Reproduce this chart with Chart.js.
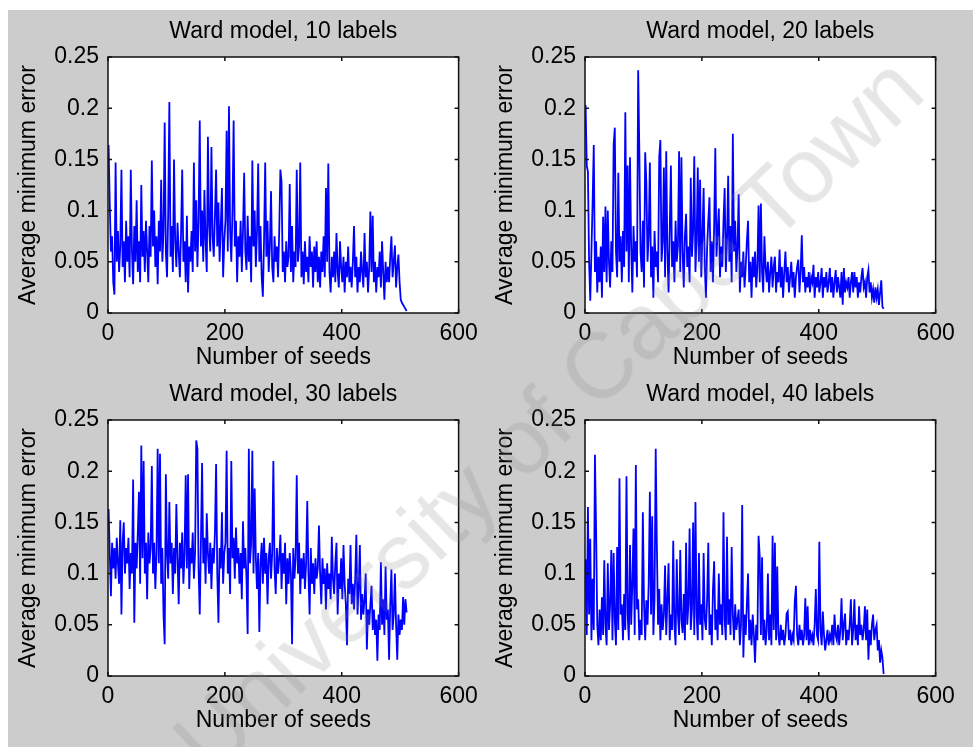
<!DOCTYPE html>
<html>
<head>
<meta charset="utf-8">
<title>Ward model</title>
<script src="https://cdn.jsdelivr.net/npm/chart.js@4.4.1/dist/chart.umd.min.js"></script>
<style>
  body { margin: 0; background: #fff; width: 973px; height: 747px; overflow: hidden; position: relative; }
  #fig { position: absolute; left: 8px; top: 10px; width: 965px; height: 737px; background: #cccccc; }
  canvas { position: absolute; }
  #wm {
    position: absolute; left: 548px; top: 415px;
    transform: translate(-50%, -50%) rotate(-43.6deg);
    font: 92px "Liberation Sans", Arial, sans-serif;
    color: rgba(128, 128, 128, 0.2);
    white-space: nowrap; pointer-events: none;
  }
</style>
</head>
<body>
<div id="fig"></div>
<canvas id="c10" width="477" height="363" style="left:8px;top:10px"></canvas>
<canvas id="c20" width="477" height="363" style="left:485px;top:10px"></canvas>
<canvas id="c30" width="477" height="363" style="left:8px;top:373px"></canvas>
<canvas id="c40" width="477" height="363" style="left:485px;top:373px"></canvas>
<div id="wm">University of Cape Town</div>
<script>
// one value every 2 seeds, starting at seed 1
var seedStep = 2

var xTickLabels = ['0', '200', '400', '600']
var yTickLabels = ['0', '0.05', '0.1', '0.15', '0.2', '0.25']

var titles = ['Ward model, 10 labels', 'Ward model, 20 labels', 'Ward model, 30 labels', 'Ward model, 40 labels']

var erro10 = [
  0.164, 0.107, 0.06, 0.075, 0.03, 0.018, 0.147, 0.05, 0.08, 0.04, 0.065, 0.14, 0.045, 0.07, 0.03, 0.09,
  0.05, 0.075, 0.035, 0.14, 0.06, 0.028, 0.085, 0.05, 0.11, 0.04, 0.07, 0.03, 0.125, 0.055, 0.08, 0.04,
  0.09, 0.06, 0.03, 0.085, 0.055, 0.149, 0.065, 0.1, 0.045, 0.075, 0.028, 0.09, 0.06, 0.13, 0.05, 0.08,
  0.186, 0.06, 0.035, 0.098, 0.206, 0.055, 0.085, 0.04, 0.15, 0.07, 0.045, 0.088, 0.06, 0.035, 0.078, 0.14,
  0.05, 0.07, 0.03, 0.095, 0.02, 0.065, 0.05, 0.08, 0.04, 0.147, 0.06, 0.11, 0.045, 0.09, 0.188, 0.065,
  0.1, 0.05, 0.12, 0.07, 0.04, 0.172, 0.085, 0.06, 0.162, 0.075, 0.055, 0.095, 0.14, 0.065, 0.108, 0.05,
  0.085, 0.122, 0.035, 0.07, 0.09, 0.178, 0.06, 0.202, 0.08, 0.05, 0.1, 0.188, 0.065, 0.09, 0.03, 0.075,
  0.055, 0.09, 0.04, 0.08, 0.137, 0.06, 0.042, 0.095, 0.05, 0.075, 0.03, 0.149, 0.065, 0.1, 0.045, 0.08,
  0.146, 0.05, 0.085, 0.035, 0.016, 0.07, 0.147, 0.055, 0.09, 0.04, 0.065, 0.119, 0.045, 0.03, 0.075, 0.05,
  0.065, 0.035, 0.08, 0.14, 0.128, 0.04, 0.06, 0.03, 0.07, 0.045, 0.055, 0.126, 0.04, 0.085, 0.03, 0.06,
  0.045, 0.14, 0.05, 0.065, 0.147, 0.035, 0.06, 0.028, 0.07, 0.04, 0.055, 0.03, 0.075, 0.045, 0.06, 0.025,
  0.065, 0.04, 0.07, 0.03, 0.055, 0.025, 0.06, 0.04, 0.075, 0.035, 0.122, 0.05, 0.146, 0.04, 0.02, 0.055,
  0.035, 0.06, 0.03, 0.078, 0.04, 0.025, 0.07, 0.045, 0.03, 0.055, 0.02, 0.05, 0.035, 0.065, 0.03, 0.045,
  0.025, 0.05, 0.085, 0.035, 0.055, 0.02, 0.045, 0.03, 0.06, 0.04, 0.025, 0.078, 0.035, 0.05, 0.02, 0.045,
  0.099, 0.04, 0.095, 0.03, 0.05, 0.02, 0.045, 0.035, 0.06, 0.025, 0.07, 0.04, 0.013, 0.05, 0.03, 0.045,
  0.03, 0.055, 0.075, 0.035, 0.05, 0.066, 0.025, 0.045, 0.057, 0.03, 0.013, 0.01, 0.008, 0.006, 0.004, 0.002
]

var erro20 = [
  0.203, 0.144, 0.138, 0.05, 0.012, 0.06, 0.108, 0.164, 0.04, 0.07, 0.02, 0.055, 0.03, 0.065, 0.015, 0.094,
  0.04, 0.104, 0.03, 0.1, 0.05, 0.025, 0.07, 0.04, 0.164, 0.181, 0.06, 0.035, 0.137, 0.05, 0.075, 0.03,
  0.08, 0.045, 0.196, 0.06, 0.144, 0.03, 0.152, 0.065, 0.02, 0.085, 0.05, 0.07, 0.035, 0.237, 0.158, 0.06,
  0.04, 0.09, 0.025, 0.157, 0.128, 0.05, 0.075, 0.147, 0.035, 0.065, 0.015, 0.08, 0.045, 0.06, 0.03, 0.152,
  0.169, 0.05, 0.07, 0.142, 0.035, 0.158, 0.06, 0.02, 0.08, 0.144, 0.045, 0.07, 0.03, 0.09, 0.05, 0.065,
  0.158, 0.04, 0.152, 0.06, 0.025, 0.075, 0.097, 0.045, 0.065, 0.03, 0.132, 0.055, 0.08, 0.153, 0.04, 0.07,
  0.142, 0.05, 0.13, 0.035, 0.075, 0.122, 0.045, 0.015, 0.065, 0.09, 0.113, 0.04, 0.07, 0.03, 0.085, 0.161,
  0.055, 0.08, 0.102, 0.035, 0.065, 0.045, 0.09, 0.122, 0.04, 0.07, 0.134, 0.05, 0.085, 0.03, 0.175, 0.06,
  0.09, 0.04, 0.065, 0.116, 0.02, 0.05, 0.035, 0.06, 0.025, 0.045, 0.07, 0.09, 0.03, 0.05, 0.015, 0.055,
  0.035, 0.06, 0.025, 0.045, 0.105, 0.03, 0.107, 0.04, 0.02, 0.075, 0.045, 0.03, 0.05, 0.02, 0.04, 0.055,
  0.025, 0.045, 0.055, 0.02, 0.04, 0.03, 0.062, 0.025, 0.045, 0.015, 0.04, 0.06, 0.03, 0.045, 0.02, 0.035,
  0.05, 0.025, 0.04, 0.015, 0.035, 0.045, 0.052, 0.02, 0.04, 0.076, 0.03, 0.045, 0.02, 0.035, 0.025, 0.04,
  0.02, 0.035, 0.03, 0.047, 0.015, 0.035, 0.025, 0.04, 0.02, 0.03, 0.044, 0.015, 0.035, 0.025, 0.04, 0.02,
  0.03, 0.044, 0.02, 0.035, 0.015, 0.03, 0.042, 0.02, 0.035, 0.025, 0.015, 0.04, 0.008, 0.044, 0.02, 0.03,
  0.025, 0.035, 0.015, 0.03, 0.04, 0.02, 0.04, 0.025, 0.035, 0.015, 0.03, 0.02, 0.035, 0.044, 0.025, 0.03,
  0.015, 0.035, 0.042, 0.02, 0.03, 0.015, 0.023, 0.01, 0.025, 0.015, 0.023, 0.008, 0.02, 0.032, 0.006, 0.004
]

var erro30 = [
  0.163, 0.12, 0.078, 0.13, 0.105, 0.125, 0.095, 0.135, 0.11, 0.09, 0.152, 0.06, 0.13, 0.15, 0.1, 0.125,
  0.11, 0.135, 0.085, 0.12, 0.1, 0.192, 0.052, 0.13, 0.105, 0.14, 0.18, 0.09, 0.225, 0.115, 0.21, 0.1,
  0.13, 0.075, 0.14, 0.11, 0.125, 0.205, 0.1, 0.13, 0.085, 0.12, 0.222, 0.11, 0.217, 0.09, 0.125, 0.06,
  0.031, 0.197, 0.12, 0.095, 0.17, 0.11, 0.13, 0.08, 0.125, 0.1, 0.168, 0.115, 0.07, 0.13, 0.105, 0.14,
  0.09, 0.12, 0.196, 0.105, 0.197, 0.085, 0.125, 0.11, 0.14, 0.095, 0.12, 0.23, 0.222, 0.105, 0.06, 0.13,
  0.208, 0.11, 0.135, 0.09, 0.159, 0.12, 0.1, 0.13, 0.085, 0.125, 0.11, 0.14, 0.207, 0.1, 0.052, 0.125,
  0.105, 0.16, 0.09, 0.12, 0.13, 0.22, 0.1, 0.125, 0.08, 0.21, 0.115, 0.135, 0.095, 0.145, 0.11, 0.125,
  0.09, 0.12, 0.075, 0.151, 0.105, 0.125, 0.095, 0.041, 0.222, 0.11, 0.13, 0.22, 0.1, 0.183, 0.115, 0.085,
  0.12, 0.043, 0.11, 0.13, 0.09, 0.135, 0.1, 0.12, 0.07, 0.115, 0.13, 0.095, 0.12, 0.21, 0.105, 0.08,
  0.125, 0.1, 0.115, 0.138, 0.085, 0.12, 0.1, 0.13, 0.07, 0.115, 0.09, 0.12, 0.1, 0.031, 0.125, 0.095,
  0.115, 0.196, 0.1, 0.13, 0.08, 0.115, 0.095, 0.12, 0.085, 0.11, 0.171, 0.1, 0.06, 0.125, 0.09, 0.11,
  0.08, 0.115, 0.095, 0.105, 0.147, 0.1, 0.07, 0.115, 0.09, 0.105, 0.065, 0.11, 0.085, 0.1, 0.075, 0.136,
  0.095, 0.08, 0.11, 0.13, 0.06, 0.1, 0.085, 0.115, 0.075, 0.128, 0.09, 0.07, 0.03, 0.095, 0.08, 0.128,
  0.07, 0.09, 0.065, 0.095, 0.138, 0.06, 0.085, 0.128, 0.055, 0.08, 0.06, 0.075, 0.1, 0.026, 0.065, 0.05,
  0.07, 0.088, 0.045, 0.065, 0.04, 0.055, 0.015, 0.06, 0.045, 0.111, 0.05, 0.075, 0.04, 0.107, 0.055, 0.065,
  0.016, 0.07, 0.104, 0.045, 0.06, 0.1, 0.05, 0.016, 0.06, 0.04, 0.055, 0.045, 0.077, 0.05, 0.075, 0.062
]

var erro40 = [
  0.114, 0.04, 0.165, 0.06, 0.134, 0.035, 0.095, 0.045, 0.216, 0.143, 0.05, 0.03, 0.065, 0.035, 0.077, 0.04,
  0.113, 0.05, 0.03, 0.11, 0.045, 0.07, 0.123, 0.035, 0.12, 0.055, 0.03, 0.126, 0.045, 0.193, 0.06, 0.07,
  0.035, 0.08, 0.045, 0.195, 0.06, 0.035, 0.128, 0.05, 0.09, 0.144, 0.04, 0.206, 0.065, 0.075, 0.035, 0.055,
  0.04, 0.16, 0.07, 0.035, 0.074, 0.05, 0.09, 0.18, 0.06, 0.156, 0.04, 0.075, 0.222, 0.126, 0.05, 0.085,
  0.035, 0.07, 0.045, 0.06, 0.108, 0.04, 0.075, 0.11, 0.035, 0.06, 0.045, 0.132, 0.05, 0.03, 0.114, 0.06,
  0.04, 0.123, 0.055, 0.042, 0.08, 0.035, 0.13, 0.05, 0.07, 0.144, 0.045, 0.065, 0.15, 0.04, 0.17, 0.06,
  0.035, 0.12, 0.05, 0.07, 0.035, 0.12, 0.055, 0.045, 0.075, 0.13, 0.04, 0.06, 0.03, 0.085, 0.112, 0.045,
  0.065, 0.035, 0.1, 0.05, 0.07, 0.04, 0.16, 0.055, 0.035, 0.136, 0.05, 0.075, 0.04, 0.126, 0.06, 0.035,
  0.07, 0.045, 0.055, 0.065, 0.03, 0.05, 0.167, 0.018, 0.06, 0.04, 0.07, 0.1, 0.035, 0.055, 0.03, 0.06,
  0.04, 0.013, 0.05, 0.035, 0.137, 0.117, 0.04, 0.116, 0.035, 0.055, 0.03, 0.045, 0.1, 0.035, 0.06, 0.03,
  0.137, 0.045, 0.13, 0.035, 0.107, 0.04, 0.03, 0.05, 0.035, 0.045, 0.03, 0.04, 0.061, 0.063, 0.035, 0.045,
  0.03, 0.04, 0.035, 0.073, 0.088, 0.04, 0.03, 0.05, 0.035, 0.045, 0.03, 0.04, 0.076, 0.035, 0.068, 0.03,
  0.045, 0.035, 0.04, 0.03, 0.05, 0.085, 0.04, 0.035, 0.131, 0.045, 0.03, 0.063, 0.04, 0.025, 0.035, 0.045,
  0.03, 0.04, 0.035, 0.05, 0.03, 0.06, 0.04, 0.035, 0.05, 0.03, 0.045, 0.076, 0.035, 0.05, 0.061, 0.03,
  0.045, 0.035, 0.05, 0.075, 0.03, 0.045, 0.075, 0.035, 0.05, 0.03, 0.068, 0.04, 0.05, 0.035, 0.045, 0.068,
  0.035, 0.065, 0.016, 0.045, 0.03, 0.05, 0.06, 0.035, 0.045, 0.05, 0.025, 0.035, 0.013, 0.025, 0.018, 0.002
]

var fonte = { family: '"Liberation Sans", Arial, Helvetica, sans-serif', size: 23, weight: 'normal' }

// white axes box with a black frame and inward tick marks on all four sides
var caixa = {
  id: 'caixa',
  beforeDatasetsDraw: function (chart) {
    var a = chart.chartArea, ctx = chart.ctx
    ctx.save()
    ctx.fillStyle = '#fff'
    ctx.fillRect(a.left, a.top, a.right - a.left, a.bottom - a.top)
    ctx.restore()
  },
  afterDatasetsDraw: function (chart) {
    var a = chart.chartArea, ctx = chart.ctx
    var sx = chart.scales.x, sy = chart.scales.y
    var t = 4
    ctx.save()
    ctx.strokeStyle = '#111'
    ctx.lineWidth = 1.5
    ctx.strokeRect(a.left, a.top, a.right - a.left, a.bottom - a.top)
    ctx.beginPath()
    sx.ticks.forEach(function (tk) {
      var px = sx.getPixelForValue(tk.value)
      ctx.moveTo(px, a.bottom); ctx.lineTo(px, a.bottom - t)
      ctx.moveTo(px, a.top); ctx.lineTo(px, a.top + t)
    })
    sy.ticks.forEach(function (tk) {
      var py = sy.getPixelForValue(tk.value)
      ctx.moveTo(a.left, py); ctx.lineTo(a.left + t, py)
      ctx.moveTo(a.right, py); ctx.lineTo(a.right - t, py)
    })
    ctx.stroke()
    ctx.restore()
  }
}

function pontos(valores) {
  return valores.map(function (v, i) { return { x: 1 + i * seedStep, y: v } })
}

function gerargrafico(id, titulo, valores) {
  var ctx = document.getElementById(id).getContext('2d')
  return new Chart(ctx, {
    type: 'line',
    data: {
      datasets: [{
        data: pontos(valores),
        borderColor: '#0000ff',
        borderWidth: 1.8,
        pointRadius: 0,
        tension: 0,
        fill: false
      }]
    },
    options: {
      responsive: false,
      animation: false,
      layout: { padding: { left: 0, right: 22, top: 0, bottom: 0 } },
      plugins: {
        legend: { display: false },
        tooltip: { enabled: false },
        title: {
          display: true,
          fullSize: false,
          text: titulo,
          color: '#000',
          font: fonte,
          padding: { top: 8.2, bottom: 11.2 }
        }
      },
      scales: {
        x: {
          type: 'linear',
          min: 0,
          max: 600,
          grid: { display: false, drawTicks: false },
          border: { display: false },
          ticks: {
            stepSize: 200,
            padding: 7.2,
            color: '#000',
            font: fonte,
            maxRotation: 0,
            callback: function (v, i) { return xTickLabels[i] }
          },
          title: {
            display: true,
            text: 'Number of seeds',
            color: '#000',
            font: fonte,
            padding: { top: 0, bottom: 1.2 }
          },
          afterFit: function (s) { s.height = 60 }
        },
        y: {
          min: 0,
          max: 0.25,
          grid: { display: false, drawTicks: false },
          border: { display: false },
          ticks: {
            stepSize: 0.05,
            padding: 9,
            color: '#000',
            font: fonte,
            callback: function (v, i) { return yTickLabels[i] }
          },
          title: {
            display: true,
            text: 'Average minimum error',
            color: '#000',
            font: fonte,
            padding: { top: 7.2, bottom: 0 }
          },
          afterFit: function (s) { s.width = 100 }
        }
      }
    },
    plugins: [caixa]
  })
}

gerargrafico('c10', titles[0], erro10)
gerargrafico('c20', titles[1], erro20)
gerargrafico('c30', titles[2], erro30)
gerargrafico('c40', titles[3], erro40)
</script>
</body>
</html>
